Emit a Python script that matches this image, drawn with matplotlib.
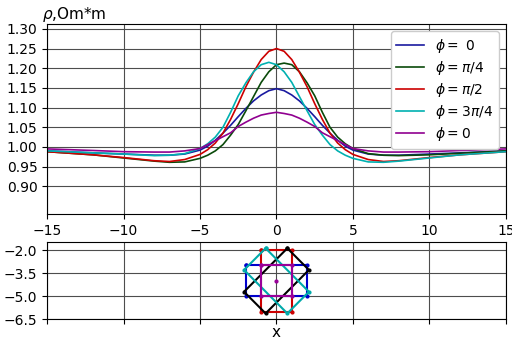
import numpy as np
import matplotlib
matplotlib.use("Agg")
import matplotlib.pyplot as plt

# profile positions
x = [-15, -12, -10, -8, -7, -6, -5, -4.5, -4, -3.5, -3, -2.5, -2, -1.5, -1, -0.5,
     0, 0.5, 1, 1.5, 2, 2.5, 3, 3.5, 4, 4.5, 5, 6, 7, 8, 10, 12, 15]

rho_0 = [0.990, 0.985, 0.982, 0.979, 0.979, 0.982, 0.992, 1.002, 1.017, 1.035, 1.055, 1.077,
         1.098, 1.117, 1.132, 1.143, 1.148, 1.143, 1.132, 1.117, 1.098, 1.077, 1.055, 1.035,
         1.017, 1.002, 0.992, 0.982, 0.979, 0.979, 0.982, 0.985, 0.990]
rho_pi4 = [0.988, 0.980, 0.972, 0.964, 0.961, 0.962, 0.971, 0.979, 0.990, 1.006, 1.030, 1.057,
           1.092, 1.128, 1.164, 1.191, 1.209, 1.213, 1.209, 1.191, 1.163, 1.130, 1.088, 1.050,
           1.025, 1.008, 0.996, 0.983, 0.979, 0.978, 0.980, 0.984, 0.990]
rho_pi2 = [0.988, 0.980, 0.973, 0.965, 0.963, 0.968, 0.981, 0.993, 1.010, 1.035, 1.070, 1.110,
           1.153, 1.190, 1.222, 1.243, 1.250, 1.243, 1.222, 1.190, 1.153, 1.110, 1.070, 1.035,
           1.010, 0.993, 0.981, 0.968, 0.963, 0.965, 0.973, 0.980, 0.988]
rho_3pi4 = [0.990, 0.985, 0.982, 0.978, 0.979, 0.983, 0.996, 1.008, 1.025, 1.050, 1.088, 1.130,
            1.163, 1.191, 1.209, 1.215, 1.209, 1.191, 1.164, 1.128, 1.092, 1.057, 1.030, 1.006,
            0.990, 0.979, 0.971, 0.962, 0.961, 0.964, 0.972, 0.980, 0.988]
rho_sq = [0.995, 0.991, 0.988, 0.987, 0.987, 0.990, 0.996, 1.006, 1.016, 1.026, 1.036, 1.052,
          1.063, 1.073, 1.081, 1.085, 1.088, 1.085, 1.081, 1.073, 1.063, 1.052, 1.036, 1.026,
          1.016, 1.006, 0.996, 0.990, 0.987, 0.987, 0.988, 0.991, 0.995]

labels = [r"$\phi=$ 0", r"$\phi=\pi/4$", r"$\phi=\pi/2$", r"$\phi=3\pi/4$", r"$\phi=0$"]
colors = ["#1a1aa0", "#0a4a0a", "#cc0000", "#00b0b0", "#900090"]

# body outlines (x, z) for the lower panel
body_0 = ([-2, 2, 2, -2, -2], [-3, -3, -5, -5, -3])
body_pi2 = ([-1, 1, 1, -1, -1], [-2, -2, -6, -6, -2])
body_pi4 = ([0.71, 2.12, -0.71, -2.12, 0.71], [-1.88, -3.29, -6.12, -4.71, -1.88])
body_3pi4 = ([-0.71, -2.12, 0.71, 2.12, -0.71], [-1.88, -3.29, -6.12, -4.71, -1.88])
body_sq = ([-1, 1, 1, -1, -1], [-3, -3, -5, -5, -3])
center = ([0], [-4])

fig = plt.figure(figsize=(5.12, 3.4), dpi=100)
ax = fig.add_axes([0.092, 0.371, 0.896, 0.558])
ax2 = fig.add_axes([0.092, 0.061, 0.896, 0.226])

for rho, lab, c in zip([rho_0, rho_pi4, rho_pi2, rho_3pi4, rho_sq], labels, colors):
    ax.plot(x, rho, color=c, lw=1.2, label=lab)

ax.set_xlim(-15, 15)
ax.set_ylim(0.83, 1.312)
ax.set_yticks([0.90, 0.95, 1.00, 1.05, 1.10, 1.15, 1.20, 1.25, 1.30])
ax.grid(color="0.3", lw=0.8)
ax.text(-0.011, 1.0, r"$\rho$,Om*m", transform=ax.transAxes, ha="left", va="bottom", fontsize=11)
ax.legend(loc="upper right", fontsize=10, framealpha=1, labelspacing=0.3,
          borderaxespad=0.5, handletextpad=0.8)

for (bx, bz), c in zip([body_0, body_pi2, body_pi4, body_3pi4, body_sq],
                       ["#0000cc", "#cc0000", "black", "#00aaaa", "#990099"]):
    ax2.plot(bx, bz, color=c, lw=1.5, marker="o", ms=2)
ax2.plot(center[0], center[1], "o", color="#990099", ms=2)

ax2.set_xlim(-15, 15)
ax2.set_ylim(-6.5, -1.5)
ax2.set_yticks([-2.0, -3.5, -5.0, -6.5])
ax2.tick_params(labelbottom=False)
ax2.grid(color="0.3", lw=0.8)
ax2.set_xlabel("x", fontsize=11)
ax2.xaxis.set_label_coords(0.5, -0.08)

plt.savefig("out.png", dpi=100)
